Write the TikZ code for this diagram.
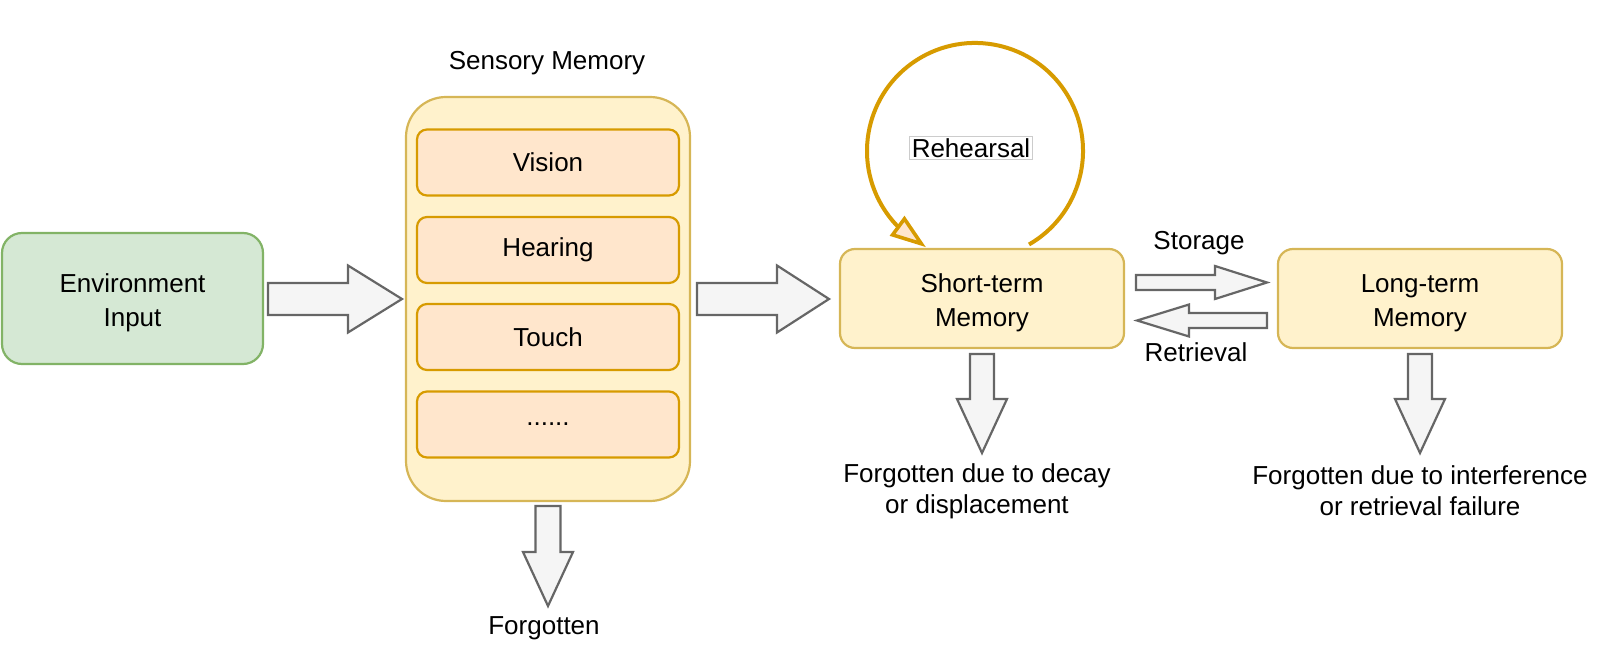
\documentclass[tikz,border=0pt]{standalone}
\usepackage{fontspec}
\setmainfont{Liberation Sans}
\usetikzlibrary{arrows.meta,calc,bending}
\definecolor{gfill}{HTML}{D5E8D4}
\definecolor{gline}{HTML}{82B366}
\definecolor{yfill}{HTML}{FFF2CC}
\definecolor{yline}{HTML}{D6B656}
\definecolor{ofill}{HTML}{FFE6CC}
\definecolor{oline}{HTML}{D79B00}
\definecolor{afill}{HTML}{F5F5F5}
\definecolor{aline}{HTML}{666666}
\newcommand\blockarrow[5]{%
  \coordinate (bah) at ($(#2)!#5!(#1)$);
  \draw[blk] ($(#1)!#3!90:(#2)$) -- ($(bah)!#3!90:(#2)$) -- ($(bah)!#4!90:(#2)$) -- (#2)
    -- ($(bah)!#4!-90:(#2)$) -- ($(bah)!#3!-90:(#2)$) -- ($(#1)!#3!-90:(#2)$) -- cycle;}
\newcommand\uplift{\rule{0pt}{13.4pt}}
\newcommand\uplifts{\rule{0pt}{11.4pt}}
\begin{document}
\begin{tikzpicture}[x=0.5pt,y=0.5pt,
  every node/.style={font=\fontsize{13pt}{17pt}\selectfont, align=center, text=black},
  greenbox/.style={rectangle, rounded corners=10pt, draw=gline, fill=gfill, line width=1.1pt,
    minimum width=130.5pt, minimum height=65.5pt, inner sep=0pt},
  bigbox/.style={rectangle, rounded corners=20pt, draw=yline, fill=yfill, line width=1.1pt,
    minimum width=142pt, minimum height=202pt, inner sep=0pt},
  subbox/.style={rectangle, rounded corners=5pt, draw=oline, fill=ofill, line width=1.1pt,
    minimum width=131pt, minimum height=33pt, inner sep=0pt},
  membox/.style={rectangle, rounded corners=7.5pt, draw=yline, fill=yfill, line width=1.1pt,
    minimum width=142pt, minimum height=49.5pt, inner sep=0pt},
  blk/.style={draw=aline, fill=afill, line width=1.1pt, line join=miter},
  smalllines/.style={font=\fontsize{13pt}{15.5pt}\selectfont},
  loopline/.style={draw=oline, line width=2pt,
    -{Triangle[length=18pt,width=12pt,fill=ofill,line width=1.8pt]}}]
\useasboundingbox (0,0) rectangle (1600,-646);

% boxes
\node[greenbox] (env) at (132.5,-298.5) {\uplift Environment\\Input};
\node[bigbox] (sens) at (548,-299) {};
\node[subbox] (vision) at (548,-162.5) {Vision};
\node[subbox] (hearing) at (548,-250) {Hearing};
\node[subbox] (touch) at (548,-337) {Touch};
\node[subbox] (dots) at (548,-424.5) {......};
\node[membox] (stm) at (982,-298.5) {\uplift Short-term\\Memory};
\node[membox] (ltm) at (1420,-298.5) {\uplift Long-term\\Memory};

% labels
\node (smlabel) at (547,-63) {Sensory Memory};
\node (forg1) at (544,-628) {Forgotten};
\node[smalllines] (forg2) at (977,-489) {\uplifts Forgotten due to decay\\or displacement};
\node[smalllines] (forg3) at (1420,-489) {\uplifts Forgotten due to interference\\or retrieval failure};
\node (storage) at (1199,-243) {Storage};
\node (retrieval) at (1196,-352) {Retrieval};

% block arrows
\coordinate (a1s) at (268,-299);  \coordinate (a1e) at (402,-299);
\coordinate (a2s) at (697,-299);  \coordinate (a2e) at (829,-299);
\coordinate (sts) at (1136,-282.5); \coordinate (ste) at (1267,-282.5);
\coordinate (rts) at (1267,-320.5); \coordinate (rte) at (1137,-320.5);
\coordinate (f1s) at (548,-506);  \coordinate (f1e) at (548,-606);
\coordinate (f2s) at (982,-354);  \coordinate (f2e) at (982,-453);
\coordinate (f3s) at (1420,-354); \coordinate (f3e) at (1420,-453);
\blockarrow{a1s}{a1e}{8pt}{16.75pt}{27pt}
\blockarrow{a2s}{a2e}{8pt}{16.75pt}{26pt}
\blockarrow{sts}{ste}{3.75pt}{8.25pt}{26pt}
\blockarrow{rts}{rte}{3.75pt}{8pt}{26pt}
\blockarrow{f1s}{f1e}{6.25pt}{12.5pt}{27pt}
\blockarrow{f2s}{f2e}{6pt}{12.5pt}{27pt}
\blockarrow{f3s}{f3e}{6pt}{12.5pt}{27pt}

% rehearsal loop
\coordinate (loopstart) at (1029,-244.5);
\draw[loopline] (loopstart) arc[start angle=-60, end angle=243, radius=54pt];
\node[draw=black!20, fill=white, line width=0.5pt, inner sep=1pt] (reh) at (971,-148) {Rehearsal};
\end{tikzpicture}
\end{document}
